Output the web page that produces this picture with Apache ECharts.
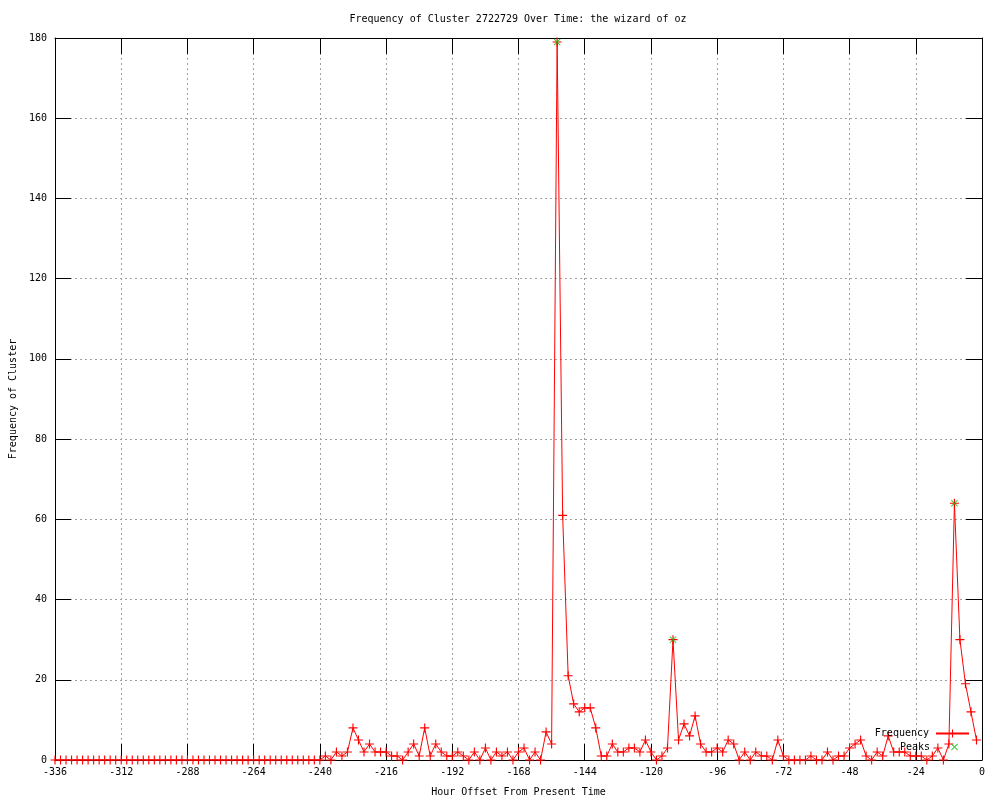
<!DOCTYPE html>
<html>
<head>
<meta charset="utf-8">
<script src="https://cdn.jsdelivr.net/npm/echarts@6/dist/echarts.min.js"></script>
<style>html,body{margin:0;padding:0;background:#fff}#c{width:1000px;height:800px}</style>
</head>
<body>
<div id="c"></div>
<script>
// Hour offsets (every 2 hours)
const hours = [
-336,-334,-332,-330,-328,-326,-324,-322,-320,-318,-316,-314,-312,-310,-308,-306,-304,-302,-300,-298,-296,-294,-292,-290,
-288,-286,-284,-282,-280,-278,-276,-274,-272,-270,-268,-266,-264,-262,-260,-258,-256,-254,-252,-250,-248,-246,-244,-242,
-240,-238,-236,-234,-232,-230,-228,-226,-224,-222,-220,-218,-216,-214,-212,-210,-208,-206,-204,-202,-200,-198,-196,-194,
-192,-190,-188,-186,-184,-182,-180,-178,-176,-174,-172,-170,-168,-166,-164,-162,-160,-158,-156,-154,-152,-150,-148,-146,
-144,-142,-140,-138,-136,-134,-132,-130,-128,-126,-124,-122,-120,-118,-116,-114,-112,-110,-108,-106,-104,-102,-100,-98,
-96,-94,-92,-90,-88,-86,-84,-82,-80,-78,-76,-74,-72,-70,-68,-66,-64,-62,-60,-58,-56,-54,-52,-50,
-48,-46,-44,-42,-40,-38,-36,-34,-32,-30,-28,-26,-24,-22,-20,-18,-16,-14,-12,-10,-8,-6,-4,-2
];
const frequency = [
0,0,0,0,0,0,0,0,0,0,0,0,0,0,0,0,0,0,0,0,0,0,0,0,
0,0,0,0,0,0,0,0,0,0,0,0,0,0,0,0,0,0,0,0,0,0,0,0,
0,1,0,2,1,2,8,5,2,4,2,2,2,1,1,0,2,4,1,8,1,4,2,1,
1,2,1,0,2,0,3,0,2,1,2,0,2,3,0,2,0,7,4,179,61,21,14,12,
13,13,8,1,1,4,2,2,3,3,2,5,2,0,1,3,30,5,9,6,11,4,2,2,
3,2,5,4,0,2,0,2,1,1,0,5,1,0,0,0,0,1,0,0,2,0,1,1,
3,4,5,1,0,2,1,6,2,2,2,1,1,1,0,1,3,0,4,64,30,19,12,5
];
const peakHours = [-154, -112, -10];
const peakValues = [179, 30, 64];
const xTicks = {min: -336, max: 0, interval: 24};
const yTicks = {min: 0, max: 180, interval: 20};

const FONT = 'DejaVu Sans Mono';
const plusPath = 'path://M3.5,0 h1 v3.5 h3.5 v1 h-3.5 v3.5 h-1 v-3.5 h-3.5 v-1 h3.5 z';
const xPath = 'path://M0,0.8 L0.8,0 L4,3.2 L7.2,0 L8,0.8 L4.8,4 L8,7.2 L7.2,8 L4,4.8 L0.8,8 L0,7.2 L3.2,4 Z';

const chart = echarts.init(document.getElementById('c'), null, {renderer: 'canvas'});
const gridLine = {show: true, lineStyle: {color: '#a0a0a0', type: [2, 3], width: 1}};
const axisLine = {show: true, onZero: false, lineStyle: {color: '#000', width: 1}};
const tick = {show: true, inside: true, length: 16, lineStyle: {color: '#000'}};
chart.setOption({
  animation: false,
  backgroundColor: '#fff',
  title: {
    text: 'Frequency of Cluster 2722729 Over Time: the wizard of oz',
    left: 518, top: 14, textAlign: 'center', padding: 0,
    textStyle: {fontFamily: FONT, fontSize: 10, fontWeight: 'normal', color: '#000'}
  },
  grid: {left: 55, right: 18, top: 38, bottom: 40, containLabel: false, outerBoundsMode: 'none'},
  xAxis: [{
    type: 'value', position: 'bottom', min: xTicks.min, max: xTicks.max, interval: xTicks.interval,
    axisLine: axisLine, axisTick: tick, splitLine: gridLine,
    axisLabel: {fontFamily: FONT, fontSize: 10, color: '#000', margin: 7},
    name: 'Hour Offset From Present Time', nameLocation: 'middle', nameGap: 27,
    nameTextStyle: {fontFamily: FONT, fontSize: 10, color: '#000'}
  }, {
    type: 'value', position: 'top', min: xTicks.min, max: xTicks.max, interval: xTicks.interval,
    axisLine: axisLine, axisTick: tick, splitLine: {show: false}, axisLabel: {show: false}
  }],
  yAxis: [{
    type: 'value', position: 'left', min: yTicks.min, max: yTicks.max, interval: yTicks.interval,
    axisLine: axisLine, axisTick: tick, splitLine: gridLine,
    axisLabel: {fontFamily: FONT, fontSize: 10, color: '#000', margin: 8, padding: [3, 0, 0, 0]},
    name: 'Frequency of Cluster', nameLocation: 'middle', nameGap: 37,
    nameTextStyle: {fontFamily: FONT, fontSize: 10, color: '#000'}
  }, {
    type: 'value', position: 'right', min: yTicks.min, max: yTicks.max, interval: yTicks.interval,
    axisLine: axisLine, axisTick: tick, splitLine: {show: false}, axisLabel: {show: false}
  }],
  legend: [{
    data: ['Frequency'], orient: 'vertical', align: 'right', right: 30, top: 728.5, padding: 0,
    itemWidth: 33, itemHeight: 10, selectedMode: false,
    textStyle: {fontFamily: FONT, fontSize: 10, color: '#000', padding: [0, 2, 0, 0]}
  }, {
    data: ['Peaks'], orient: 'vertical', align: 'right', right: 42, top: 742, padding: 0,
    itemWidth: 7, itemHeight: 7, selectedMode: false,
    textStyle: {fontFamily: FONT, fontSize: 10, color: '#000', padding: [0, 16, 0, 0]}
  }],
  series: [{
    name: 'Frequency', type: 'line', xAxisIndex: 0, yAxisIndex: 0,
    data: hours.map((h, i) => [h, frequency[i]]),
    symbol: plusPath, symbolSize: 9, showAllSymbol: true,
    lineStyle: {color: '#ff0000', width: 1},
    itemStyle: {color: '#ff0000'},
    emphasis: {disabled: true}, z: 2
  }, {
    name: 'Peaks', type: 'scatter', xAxisIndex: 0, yAxisIndex: 0,
    data: peakHours.map((h, i) => [h, peakValues[i]]),
    symbol: xPath, symbolSize: 7,
    itemStyle: {color: '#00c000'},
    emphasis: {disabled: true}, z: 3
  }]
});
</script>
</body>
</html>
